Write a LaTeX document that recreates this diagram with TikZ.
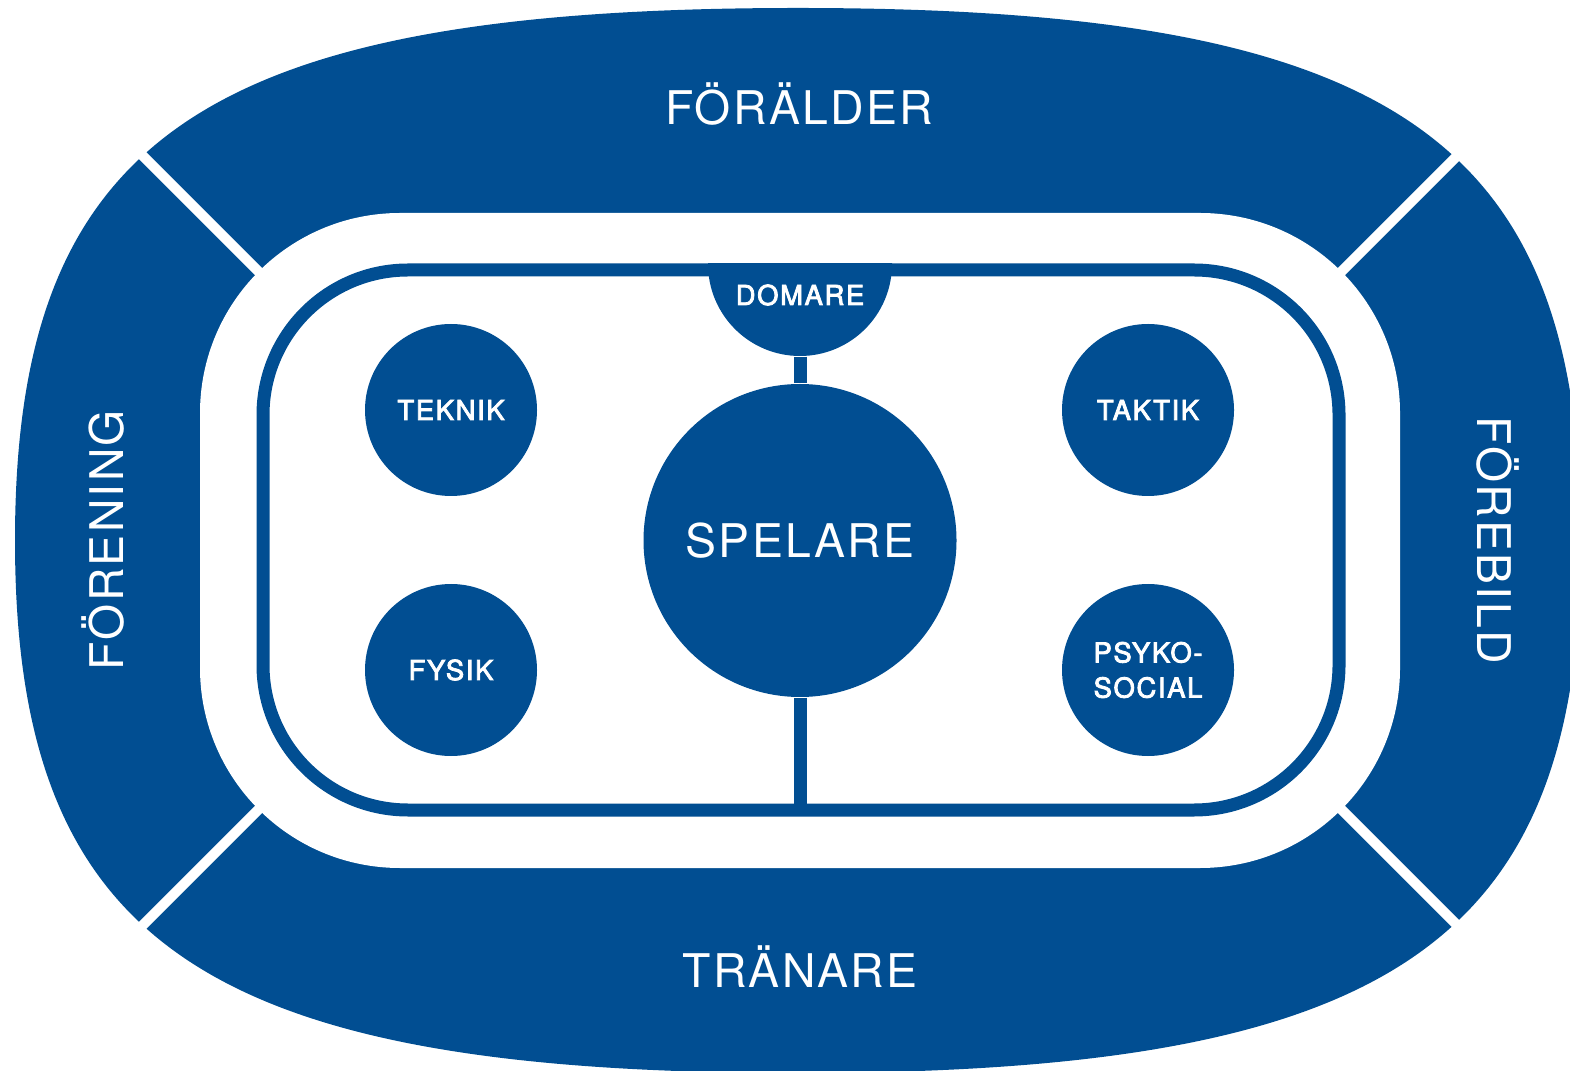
\documentclass[tikz,border=0pt]{standalone}
\usepackage{fontspec}
\usepackage{xcolor}
\usepackage{tikz}

\setmainfont{TeX Gyre Heros}
\newfontfamily\bigfont[LetterSpace=5]{TeX Gyre Heros}
\newfontfamily\smallfont[LetterSpace=6,FakeBold=3]{TeX Gyre Heros}
\definecolor{rinkblue}{RGB}{1,78,146}

\begin{document}
\begin{tikzpicture}[x=0.1mm, y=-0.1mm,
	dot/.style={circle, fill=rinkblue, inner sep=0pt, minimum size=17.2mm, text=white, align=center, font=\smallfont\fontsize{7.8}{10}\selectfont},
	bigdot/.style={dot, minimum size=31.3mm, font=\bigfont\fontsize{13.2}{15}\selectfont},
	lbl/.style={text=white, inner sep=0pt, font=\smallfont\fontsize{7.8}{10}\selectfont},
	zone/.style={text=white, inner sep=0pt, anchor=base, font=\bigfont\fontsize{13.2}{15}\selectfont},
	rink/.style={draw=rinkblue, line width=1.3mm},
	gap/.style={draw=white, line width=1mm}]

\useasboundingbox (0,0) rectangle (1570,1071);

% outer ring
\fill[rinkblue] (1581,540.5) .. controls (1581,137.4) and (1391,8) .. (798,8)
	.. controls (205,8) and (15,137.4) .. (15,540.5)
	.. controls (15,943.6) and (205,1073) .. (798,1073)
	.. controls (1391,1073) and (1581,943.6) .. (1581,540.5) -- cycle;

\fill[white, rounded corners=20mm] (200,213) rectangle (1400,868);

\foreach \a/\b/\c/\d in {115/128/290/303, 1485/128/1310/303, 115/953/290/778, 1485/953/1310/778}{
	\draw[gap] (\a,\b)--(\c,\d);
}

% rink
\draw[rink, rounded corners=14.5mm] (263,270) rectangle (1339,810);

\node[bigdot] (spelare) at (800,540.5) {SPELARE};

\begin{scope}
	\clip (263,264) rectangle (1339,400);
	\node[dot, minimum size=18.4mm] (domare) at (800,264) {};
\end{scope}
\node[lbl] (domarelbl) at (800,295) {DOMARE};

\node[dot] (teknik) at (451,410) {TEKNIK};
\node[dot] (fysik) at (451,670) {FYSIK};
\node[dot] (taktik) at (1148,410) {TAKTIK};
\node[dot] (psyko) at (1148,670) {PSYKO-\\SOCIAL};

\coordinate (mittlinje) at (800,810);
\draw[rink] (domare.south) -- (spelare.north);
\draw[rink] (spelare.south) -- (mittlinje);

% ring labels
\node[zone] (foralder) at (799,125) {FÖRÄLDER};
\node[zone] (tranare) at (800,987) {TRÄNARE};
\node[zone, rotate=90] (forening) at (123,540) {FÖRENING};
\node[zone, rotate=-90] (forebild) at (1477,540) {FÖREBILD};

\end{tikzpicture}
\end{document}
